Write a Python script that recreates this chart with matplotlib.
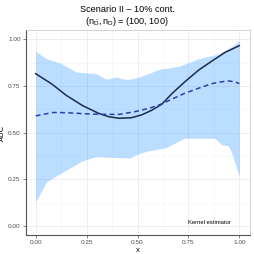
import numpy as np
import matplotlib.pyplot as plt

plt.rcParams['font.family'] = ['Liberation Sans', 'DejaVu Sans']
plt.rcParams['mathtext.fontset'] = 'custom'
plt.rcParams['mathtext.rm'] = 'Liberation Sans'
plt.rcParams['mathtext.it'] = 'Liberation Sans'

# values
x_solid = [0.0, 0.08, 0.15, 0.23, 0.31, 0.36, 0.41, 0.47, 0.52, 0.57, 0.62, 0.67, 0.73, 0.8, 0.87, 0.93, 1.0]
y_solid = [0.816, 0.76, 0.70, 0.645, 0.603, 0.585, 0.577, 0.58, 0.595, 0.62, 0.653, 0.71, 0.77, 0.835, 0.887, 0.93, 0.966]

x_dash = [0.0, 0.085, 0.15, 0.23, 0.31, 0.41, 0.5, 0.57, 0.617, 0.67, 0.73, 0.8, 0.866, 0.91, 0.946, 0.975, 1.0]
y_dash = [0.59, 0.608, 0.607, 0.602, 0.598, 0.598, 0.615, 0.635, 0.653, 0.68, 0.71, 0.738, 0.763, 0.772, 0.777, 0.773, 0.763]

x_band = [0.0, 0.053, 0.118, 0.2, 0.298, 0.346, 0.395, 0.44, 0.46, 0.509, 0.606, 0.704, 0.8, 0.9, 0.96, 1.0]
band_hi = [0.936, 0.896, 0.874, 0.825, 0.816, 0.786, 0.798, 0.786, 0.786, 0.798, 0.839, 0.856, 0.896, 0.922, 0.96, 0.993]

x_low = [0.0, 0.053, 0.135, 0.232, 0.298, 0.38, 0.46, 0.49, 0.54, 0.64, 0.704, 0.73, 0.88, 0.913, 0.946, 0.96, 1.0]
band_lo = [0.13, 0.236, 0.29, 0.35, 0.372, 0.367, 0.364, 0.381, 0.399, 0.42, 0.455, 0.47, 0.47, 0.435, 0.43, 0.40, 0.266]

grid_x = np.linspace(0, 1, 201)
lo = np.interp(grid_x, x_low, band_lo)
hi = np.interp(grid_x, x_band, band_hi)

fig = plt.figure(figsize=(2.54, 2.54), dpi=100)
ax = fig.add_axes([25.5 / 254, 18.7 / 254, 224 / 254, 205.3 / 254])

ax.fill_between(grid_x, lo, hi, color='dodgerblue', alpha=0.3, linewidth=0, zorder=2)
ax.plot(x_solid, y_solid, color='#1c2b4b', lw=1.1, zorder=3)
ax.plot(x_dash, y_dash, color='#2a3db5', lw=1.1, ls=(0, (3.2, 2.2)), zorder=3)

ax.set_xlim(-0.05, 1.05)
ax.set_ylim(-0.05, 1.05)
ticks = [0, 0.25, 0.5, 0.75, 1.0]
tick_labels = ['0.00', '0.25', '0.50', '0.75', '1.00']
ax.set_xticks(ticks)
ax.set_xticklabels(tick_labels)
ax.set_yticks(ticks)
ax.set_yticklabels(tick_labels)
ax.set_xticks([0.125, 0.375, 0.625, 0.875], minor=True)
ax.set_yticks([0.125, 0.375, 0.625, 0.875], minor=True)
ax.grid(True, which='major', color='#ebebeb', lw=0.6, zorder=0)
ax.grid(True, which='minor', color='#f4f4f4', lw=0.4, zorder=0)
ax.set_axisbelow(True)
ax.tick_params(which='minor', length=0)
ax.tick_params(which='major', length=2, width=0.5, color='#555555',
               labelsize=4.6, labelcolor='#4d4d4d', pad=1.5)

for s in ['left', 'bottom']:
    ax.spines[s].set_color('#555555')
    ax.spines[s].set_linewidth(0.8)
for s in ['top', 'right']:
    ax.spines[s].set_color('#cccccc')
    ax.spines[s].set_linewidth(0.6)

ax.set_xlabel('x', fontsize=5.5, labelpad=1)
ax.set_ylabel('AUC', fontsize=5.5)
ax.yaxis.set_label_coords(-0.087, 0.5)

ax.text(0.957, 0.02, 'Kernel estimator', fontsize=4.2, ha='right', va='center')

fig.text(0.5, 1 - 9 / 254, 'Scenario II \u2013 10% cont.', ha='center', va='center', fontsize=6.6)
fig.text(0.5, 1 - 21 / 254, r'$(\mathrm{n}_{\bar{\mathrm{D}}}, \mathrm{n}_{\mathrm{D}})$ = (100, 100)',
         ha='center', va='center', fontsize=6.6)

fig.savefig('out.png', dpi=100)
